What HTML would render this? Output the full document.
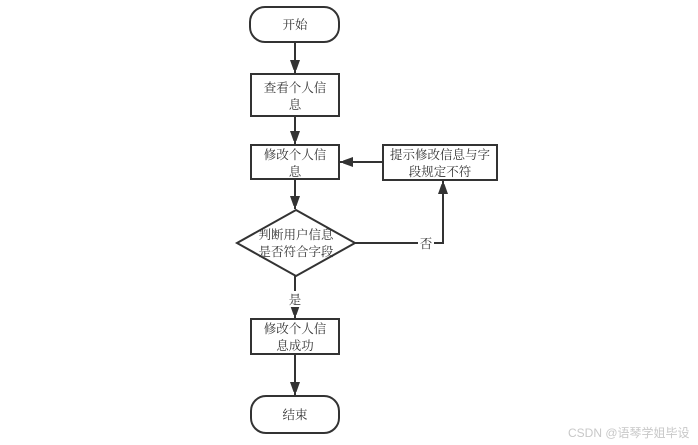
<!DOCTYPE html>
<html><head><meta charset="utf-8"><style>
html,body{margin:0;padding:0;background:#fff;width:698px;height:445px;overflow:hidden}
svg{display:block}
text{font-family:"Liberation Serif","Noto Serif CJK SC","Noto Sans CJK SC",serif;font-size:12.5px;fill:#333}
</style></head><body>
<svg width="698" height="445" viewBox="0 0 698 445">
<defs><marker id="a" markerWidth="10" markerHeight="10" refX="9" refY="5" orient="auto" markerUnits="userSpaceOnUse"><path d="M0,0 L10,5 L0,10 Z" fill="#333"/></marker>
<marker id="b" markerWidth="10" markerHeight="14" refX="13" refY="5" orient="auto" markerUnits="userSpaceOnUse"><path d="M0,0 L14,5 L0,10 Z" fill="#333"/></marker></defs>
<g stroke="#333" stroke-width="2" fill="#fff">
<rect x="250" y="7" width="89" height="35" rx="15"/>
<rect x="251" y="74" width="88" height="42"/>
<rect x="251" y="145" width="88" height="34"/>
<rect x="383" y="145" width="114" height="35"/>
<polygon points="296,210 355,243 296,276 237,243"/>
<rect x="251" y="319" width="88" height="35"/>
<rect x="251" y="396" width="88" height="37" rx="15"/>
</g>
<g stroke="#333" stroke-width="2" fill="none">
<line x1="295" y1="42" x2="295" y2="73" marker-end="url(#b)"/>
<line x1="295" y1="116" x2="295" y2="144" marker-end="url(#b)"/>
<line x1="295" y1="179" x2="295" y2="209" marker-end="url(#b)"/>
<line x1="383" y1="162" x2="340" y2="162" marker-end="url(#b)"/>
<polyline points="355,243 443,243 443,181" marker-end="url(#b)"/>
<line x1="295" y1="276" x2="295" y2="318" marker-end="url(#b)"/>
<line x1="295" y1="354" x2="295" y2="395" marker-end="url(#b)"/>
</g>
<rect x="418" y="235" width="16" height="16" fill="#fff"/>
<rect x="288" y="291" width="15" height="16" fill="#fff"/>
<g text-anchor="middle">
<text x="295" y="29">开始</text>
<text x="295" y="92">查看个人信</text><text x="295" y="109">息</text>
<text x="295" y="159">修改个人信</text><text x="295" y="176">息</text>
<text x="440" y="159">提示修改信息与字</text><text x="440" y="176">段规定不符</text>
<text x="296" y="239">判断用户信息</text><text x="296" y="256">是否符合字段</text>
<text x="426" y="248">否</text>
<text x="295" y="304">是</text>
<text x="295" y="333">修改个人信</text><text x="295" y="350">息成功</text>
<text x="295" y="419">结束</text>
</g>
<text x="568" y="437" style="font-family:'Liberation Sans','Noto Sans CJK SC',sans-serif;font-size:12px;fill:#c8c8c8">CSDN @语琴学姐毕设</text>
</svg>
</body></html>
